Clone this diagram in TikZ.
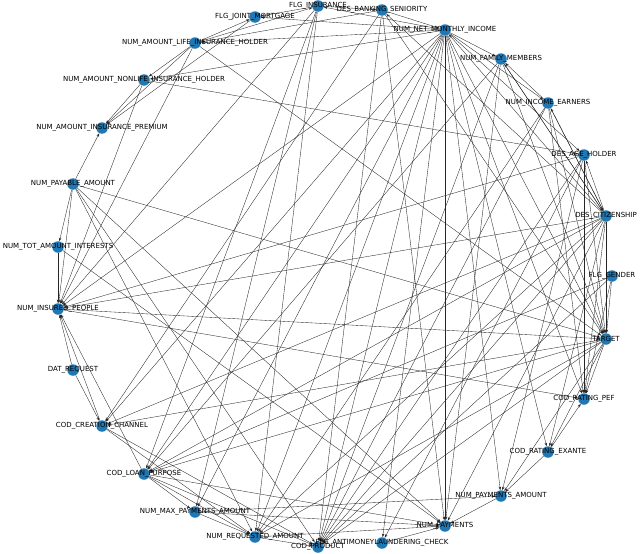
\documentclass[tikz,border=0pt]{standalone}
\usepackage{fontspec}
\setmainfont{DejaVu Sans}
\usetikzlibrary{arrows.meta}
\definecolor{nb}{HTML}{1F77B4}
\begin{document}
\begin{tikzpicture}[x=1pt,y=-1pt,
  vtx/.style={circle,fill=nb,inner sep=0pt,minimum size=11.5pt},
  lbl/.style={font=\fontsize{7}{8}\selectfont,inner sep=0pt},
  edg/.style={draw=black!85,line width=0.35pt,-{Stealth[length=3.5pt,width=2.5pt]}}]
\useasboundingbox (0,0) rectangle (640,554);
\clip (0,0) rectangle (640,554);
\foreach \n/\x/\y in {ins/318/6,sen/382/10,jm/255/17,inc/445/30,life/195/43,fam/501/59,
 nonl/144/80,earn/548/103,prem/102/128,age/584/155,pay/73/184,cit/606/216,tot/58/247,
 gen/612/276,insp/58/309,tgt/606/339,dat/73/370,pef/584/399,chan/102/426,exa/548/452,
 loan/144/474,pam/501/496,max/195/512,pmt/445/526,req/255/537,aml/382/543,prod/318/547}
 \node[vtx] (\n) at (\x,\y) {};
\foreach \a/\b in {inc/life,inc/nonl,inc/fam,inc/earn,inc/age,inc/tgt,inc/pmt,inc/pam,inc/pef,inc/exa,
 inc/prod,inc/req,inc/loan,inc/chan,inc/insp,inc/aml,inc/jm,inc/ins,inc/max,
 cit/tgt,cit/pef,cit/exa,cit/insp,cit/chan,cit/loan,cit/req,cit/prod,cit/pmt,cit/earn,cit/fam,cit/age,cit/inc,cit/sen,
 age/tgt,age/pef,age/insp,age/prod,age/aml,age/pam,
 earn/tgt,earn/pef,earn/prod,earn/req,earn/fam,earn/cit,
 fam/tgt,fam/prod,fam/pmt,fam/loan,fam/cit,
 gen/tgt,gen/pef,gen/prod,gen/loan,
 tgt/pef,tgt/exa,tgt/pam,tgt/chan,tgt/prod,tgt/req,tgt/loan,
 insp/tgt,insp/pef,
 pay/tot,pay/prem,pay/tgt,pay/insp,pay/pmt,pay/prod,pay/req,
 nonl/prem,life/prem,jm/prem,nonl/age,nonl/insp,
 life/jm,life/ins,life/nonl,life/insp,life/tgt,
 ins/jm,ins/sen,ins/insp,ins/max,ins/req,ins/loan,
 sen/inc,sen/life,sen/pmt,sen/prod,sen/tgt,sen/chan,
 dat/insp,dat/chan,chan/insp,chan/prod,chan/req,
 loan/max,loan/req,loan/prod,loan/pmt,loan/insp,
 max/pmt,max/pam,max/req,req/prod,req/pmt,pam/pmt,aml/pmt,
 exa/pam,exa/pef,tot/insp,tot/pmt}
 \draw[edg] (\a) -- (\b);
\foreach \n/\t in {ins/FLG\_INSURANCE,sen/DES\_BANKING\_SENIORITY,jm/FLG\_JOINT\_MORTGAGE,
 inc/NUM\_NET\_MONTHLY\_INCOME,life/NUM\_AMOUNT\_LIFE\_INSURANCE\_HOLDER,fam/NUM\_FAMILY\_MEMBERS,
 nonl/NUM\_AMOUNT\_NONLIFE\_INSURANCE\_HOLDER,earn/NUM\_INCOME\_EARNERS,prem/NUM\_AMOUNT\_INSURANCE\_PREMIUM,
 age/DES\_AGE\_HOLDER,pay/NUM\_PAYABLE\_AMOUNT,cit/DES\_CITIZENSHIP,tot/NUM\_TOT\_AMOUNT\_INTERESTS,
 gen/FLG\_GENDER,insp/NUM\_INSURED\_PEOPLE,tgt/TARGET,dat/DAT\_REQUEST,pef/COD\_RATING\_PEF,
 chan/COD\_CREATION\_CHANNEL,exa/COD\_RATING\_EXANTE,loan/COD\_LOAN\_PURPOSE,pam/NUM\_PAYMENTS\_AMOUNT,
 max/NUM\_MAX\_PAYMENTS\_AMOUNT,pmt/NUM\_PAYMENTS,req/NUM\_REQUESTED\_AMOUNT,
 aml/FLG\_ANTIMONEYLAUNDERING\_CHECK,prod/COD\_PRODUCT}
 \node[lbl] (l\n) at (\n) {\t};
\end{tikzpicture}
\end{document}
